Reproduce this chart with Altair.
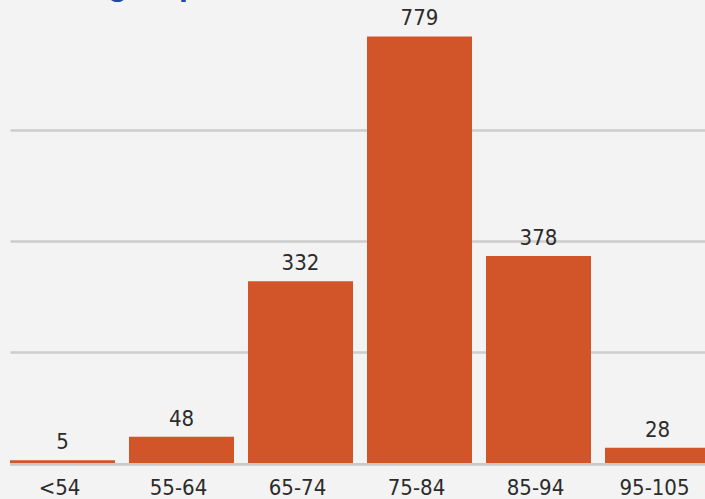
import altair as alt
import pandas as pd

categories = ["<54", "55-64", "65-74", "75-84", "85-94", "95-105"]
counts = [5, 48, 332, 779, 378, 28]
grid_values = [203, 406, 609]
title_text = "Score group"

df = pd.DataFrame({"group": categories, "count": counts})

BAR = "#D2552A"
TXT = "#2b2b2b"
GRID = "#cdcdcd"
FONT = "Liberation Sans Narrow, DejaVu Sans Condensed, Liberation Sans, sans-serif"

y_scale = alt.Scale(domain=[0, 800], nice=False)
y_axis = alt.Axis(
    title=None, labels=False, ticks=False, domain=False,
    values=grid_values, grid=True, gridColor=GRID, gridWidth=2.7,
)

x_enc = alt.X(
    "group:N",
    sort=categories,
    scale=alt.Scale(range=[0, 700], paddingInner=0.1176, paddingOuter=0),
    axis=alt.Axis(
        title=None, domain=False, ticks=False, tickSize=0, grid=False,
        labelFont=FONT, labelFontSize=22, labelColor=TXT,
        labelBaseline="alphabetic", labelPadding=31, labelOffset=-3,
        labelAngle=0,
    ),
)
y_enc = alt.Y("count:Q", scale=y_scale, axis=y_axis)

base = alt.Chart(df)

baseline = alt.Chart(pd.DataFrame({"count": [0]})).mark_rule(
    color="#c9c9c9", strokeWidth=2.7, yOffset=1.3
).encode(y=alt.Y("count:Q", scale=y_scale, axis=y_axis))

bars = base.mark_bar(color=BAR, clip=True).encode(x=x_enc, y=y_enc)

labels = base.mark_text(
    font=FONT, fontSize=22, color=TXT, baseline="alphabetic", dy=-11
).encode(x=alt.X("group:N", sort=categories), y=alt.Y("count:Q", scale=y_scale, axis=y_axis), text="count:Q")

title = alt.Chart(pd.DataFrame({"t": [title_text]})).mark_text(
    font="Liberation Sans", fontSize=32, fontWeight="bold", color="#1d4aa5",
    align="left", baseline="alphabetic"
).encode(x=alt.value(0), y=alt.value(-30), text="t:N")

chart = alt.layer(baseline, bars, labels, title).properties(
    width=695, height=438,
    padding={"left": 10, "top": 25, "right": 0, "bottom": 36},
    autosize=alt.AutoSizeParams(type="none"),
    background="#f3f3f3",
).configure_view(stroke=None)

chart.save("out.html", embed_options={"renderer": "svg", "actions": False})
